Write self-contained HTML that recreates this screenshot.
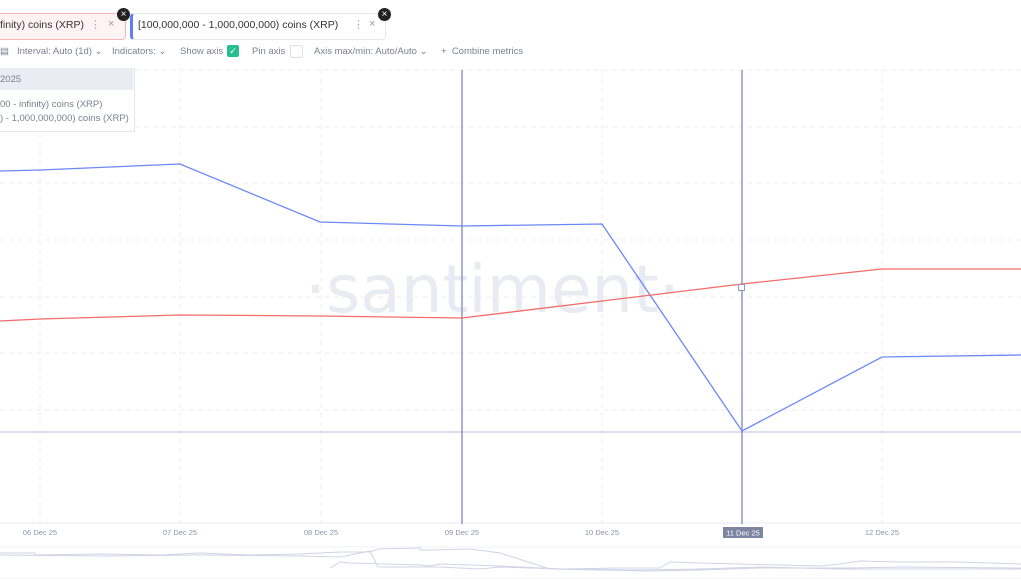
<!DOCTYPE html>
<html><head><meta charset="utf-8"><style>
body{margin:0;width:1021px;height:580px;overflow:hidden;background:#fff;font-family:"Liberation Sans",sans-serif;position:relative}
.t{position:absolute;white-space:nowrap}
.tb{position:absolute;white-space:nowrap;top:46px;font-size:9.5px;color:#7a8090}
</style></head><body>
<div class="t" style="left:-10px;top:13px;width:134px;height:25px;border:1px solid #f5b8b8;background:#fff4f3;border-radius:4px"></div>
<div class="t" style="left:0;top:19px;font-size:10.5px;color:#333">finity) coins (XRP)</div>
<div class="t" style="left:90px;top:18px;font-size:11px;color:#aaa">⋮</div>
<div class="t" style="left:108px;top:18px;font-size:11px;color:#999">×</div>
<div class="t" style="left:117px;top:8px;width:13px;height:13px;border-radius:50%;background:#222;color:#fff;font-size:10px;text-align:center;line-height:13px">×</div>
<div class="t" style="left:130px;top:13px;width:252px;height:25px;border:1px solid #e6e9f0;border-left:3px solid #5d7dfa;border-radius:4px;background:#fff"></div>
<div class="t" style="left:138px;top:19px;font-size:10.5px;color:#333">[100,000,000 - 1,000,000,000) coins (XRP)</div>
<div class="t" style="left:353px;top:18px;font-size:11px;color:#aaa">⋮</div>
<div class="t" style="left:369px;top:18px;font-size:11px;color:#999">×</div>
<div class="t" style="left:378px;top:8px;width:13px;height:13px;border-radius:50%;background:#222;color:#fff;font-size:10px;text-align:center;line-height:13px">×</div>
<div class="tb" style="left:0">&#9636;</div>
<div class="tb" style="left:17px">Interval: Auto (1d) ⌄</div>
<div class="tb" style="left:112px">Indicators: ⌄</div>
<div class="tb" style="left:180px">Show axis</div>
<div class="t" style="left:227px;top:45px;width:12px;height:12px;background:#26c08e;border-radius:2px;color:#fff;font-size:9px;text-align:center;line-height:12px">✓</div>
<div class="tb" style="left:252px">Pin axis</div>
<div class="t" style="left:290px;top:45px;width:11px;height:11px;border:1px solid #dde;border-radius:2px"></div>
<div class="tb" style="left:314px">Axis max/min: Auto/Auto ⌄</div>
<div class="tb" style="left:441px">+ &nbsp;Combine metrics</div>
<svg class="t" style="left:0;top:0" width="1021" height="580">
<g stroke="#eceef4" stroke-dasharray="5,4" stroke-width="1">
<line x1="0" y1="70" x2="1021" y2="70"/>
<line x1="0" y1="127" x2="1021" y2="127"/><line x1="0" y1="183" x2="1021" y2="183"/><line x1="0" y1="240" x2="1021" y2="240"/><line x1="0" y1="297" x2="1021" y2="297"/><line x1="0" y1="353" x2="1021" y2="353"/><line x1="0" y1="410" x2="1021" y2="410"/>
<line x1="40" y1="70" x2="40" y2="523"/><line x1="180" y1="70" x2="180" y2="523"/><line x1="321" y1="70" x2="321" y2="523"/><line x1="602" y1="70" x2="602" y2="523"/><line x1="882" y1="70" x2="882" y2="523"/>
</g>
<line x1="0" y1="432" x2="1021" y2="432" stroke="#b8bfdc" stroke-width="1"/>
<line x1="0" y1="523" x2="1021" y2="523" stroke="#e6e9f2"/>
<text x="305" y="312" font-size="66" fill="#e8ebf2" font-family="DejaVu Sans,sans-serif" textLength="375" lengthAdjust="spacingAndGlyphs">·santiment·</text>
<line x1="462" y1="70" x2="462" y2="524" stroke="#8e97bd" stroke-width="1.5"/>
<line x1="742" y1="70" x2="742" y2="524" stroke="#8e97bd" stroke-width="1.5"/>
<polyline fill="none" stroke="#6b88f7" stroke-width="1.3" points="0,171 40,170 180,164 320,222 462,226 602,224 742,431 882,357 1021,355"/>
<polyline fill="none" stroke="#f36b6b" stroke-width="1.3" points="0,321 40,319 180,315 320,316 462,318 742,284 882,269 1021,269"/>
<rect x="738.5" y="284.5" width="6" height="6" fill="#fff" stroke="#8e97bd"/>
<g font-size="7.5" fill="#8e94a8" text-anchor="middle">
<text x="40" y="535">06 Dec 25</text><text x="180" y="535">07 Dec 25</text><text x="321" y="535">08 Dec 25</text><text x="462" y="535">09 Dec 25</text><text x="602" y="535">10 Dec 25</text><text x="882" y="535">12 Dec 25</text>
</g>
<rect x="723" y="527" width="40" height="11" fill="#7d85a3"/>
<text x="743" y="535.5" font-size="7.5" fill="#fff" text-anchor="middle">11 Dec 25</text>
<line x1="0" y1="547" x2="1021" y2="547" stroke="#eef0f5"/>
<line x1="0" y1="578" x2="1021" y2="578" stroke="#eef0f5"/>
<polyline fill="none" stroke="#cfd4e6" points="0,553 35,553 35,555 100,554 160,555 200,553 250,555 300,554 340,552 370,552 378,549 420,548 420,550 430,550 470,549 500,553 550,569 600,570 650,571 700,570 760,568 850,568 900,567 1021,568"/>
<polyline fill="none" stroke="#cfd4e6" points="0,555 100,556 200,555 300,556 340,557 370,551 378,567 420,567 440,567 460,568 480,569 500,567 560,569 640,570 700,569 760,567 840,569 880,569 1021,569"/>
<polyline fill="none" stroke="#cfd4e6" points="330,568 340,562 350,563 420,565 430,566 440,564 500,566 560,569 620,568 660,568 670,562 700,563 780,565 820,566 840,564 860,561 900,562 960,562 1021,564"/>
</svg>
<div class="t" style="left:-5px;top:68px;width:138px;height:62px;border:1px solid #e3e6ee;background:#fff"></div>
<div class="t" style="left:-5px;top:68px;width:138px;height:22px;background:#e9ecf3"></div>
<div class="t" style="left:0;top:74px;font-size:9.5px;color:#7a8090">2025</div>
<div class="t" style="left:0;top:99px;font-size:9.5px;color:#7a8090">00 - infinity) coins (XRP)</div>
<div class="t" style="left:0;top:113px;font-size:9.5px;color:#7a8090">) - 1,000,000,000) coins (XRP)</div>
</body></html>
